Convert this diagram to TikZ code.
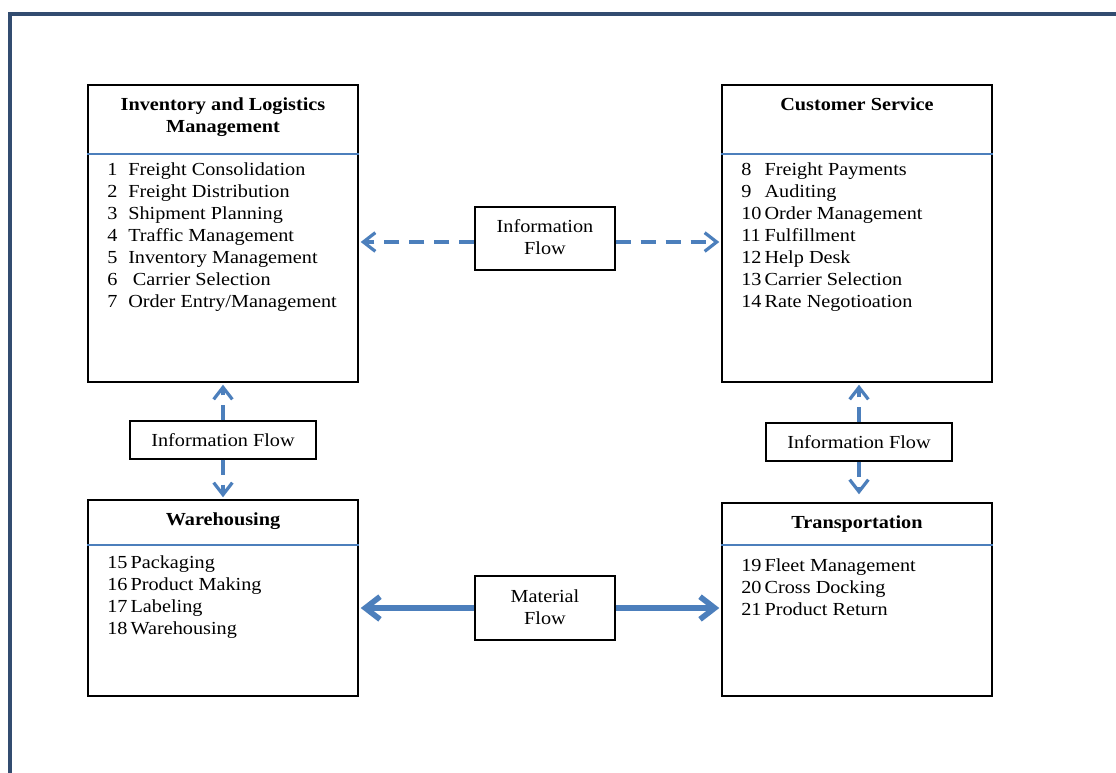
\documentclass[tikz,border=0pt]{standalone}
\usepackage{fontspec}
\setmainfont{Liberation Serif}[FakeStretch=1.1]
\usetikzlibrary{arrows.meta,fit,calc}

\definecolor{framecol}{RGB}{50,76,112}
\definecolor{flowblue}{RGB}{76,127,188}

\newcommand\boxfont{\fontsize{13.8}{16.5}\selectfont}

\tikzset{
  panel/.style={draw=black, line width=1.1pt, inner sep=0pt},
  sepline/.style={draw=flowblue, line width=0.9pt},
  flowbox/.style={draw=black, line width=1.1pt, inner sep=0pt},
  flowtext/.style={inner sep=0pt, align=center, font=\boxfont},
  headtext/.style={font=\boxfont\bfseries, align=center, inner sep=0pt, anchor=base},
  itemlist/.style={font=\boxfont, inner sep=0pt, anchor=base west},
  infoarrow/.style={draw=flowblue, line width=2.4pt, dash pattern=on 11.25pt off 7.5pt,
    -{Straight Barb[length=9pt,width=14pt]}, shorten >=1.5pt},
  matarrow/.style={draw=flowblue, line width=4.2pt,
    -{Straight Barb[length=11pt,width=17pt]}, shorten >=1.5pt},
}

\begin{document}
\begin{tikzpicture}[x=0.75pt, y=-0.75pt]
  \useasboundingbox[fill=white] (0,0) rectangle (1116,772);

  % page frame
  \draw[framecol, line width=3pt, line join=miter] (10,790) -- (10,14) -- (1130,14);

  % the four functional panels
  \node[panel, fit={(88,85) (358,382)}]  (ilm) {};
  \node[panel, fit={(722,85) (992,382)}] (cs)  {};
  \node[panel, fit={(88,500) (358,696)}] (wh)  {};
  \node[panel, fit={(722,503) (992,696)}] (tr) {};

  % header separators
  \draw[sepline] (ilm.west |- 0,154) -- (ilm.east |- 0,154);
  \draw[sepline] (cs.west |- 0,154)  -- (cs.east |- 0,154);
  \draw[sepline] (wh.west |- 0,545)  -- (wh.east |- 0,545);
  \draw[sepline] (tr.west |- 0,545)  -- (tr.east |- 0,545);

  % panel headings
  \node[headtext] (ilmhead) at (223,132) {Inventory and Logistics\\Management};
  \node[headtext] (cshead)  at (857,110) {Customer Service};
  \node[headtext] (whhead)  at (223,525) {Warehousing};
  \node[headtext] (trhead)  at (857,528) {Transportation};

  % panel contents
  \node[itemlist] (ilmlist) at (107,175) {\begin{tabular}[t]{@{}p{15.75pt}@{}l@{}}
    1 & Freight Consolidation\\
    2 & Freight Distribution\\
    3 & Shipment Planning\\
    4 & Traffic Management\\
    5 & Inventory Management\\
    6 & \hspace{3.5pt}Carrier Selection\\
    7 & Order Entry/Management
  \end{tabular}};
  \node[itemlist] (cslist) at (741,175) {\begin{tabular}[t]{@{}p{17.5pt}@{}l@{}}
    8 & Freight Payments\\
    9 & Auditing\\
    10 & Order Management\\
    11 & Fulfillment\\
    12 & Help Desk\\
    13 & Carrier Selection\\
    14 & Rate Negotioation
  \end{tabular}};
  \node[itemlist] (whlist) at (107,568) {\begin{tabular}[t]{@{}p{17.5pt}@{}l@{}}
    15 & Packaging\\
    16 & Product Making\\
    17 & Labeling\\
    18 & Warehousing
  \end{tabular}};
  \node[itemlist] (trlist) at (741,571) {\begin{tabular}[t]{@{}p{17.5pt}@{}l@{}}
    19 & Fleet Management\\
    20 & Cross Docking\\
    21 & Product Return
  \end{tabular}};

  % flow label boxes
  \node[flowbox, fit={(475,207) (615,270)}] (info)  {};
  \node[flowbox, fit={(475,576) (615,640)}] (mat)   {};
  \node[flowbox, fit={(130,421) (316,459)}] (infol) {};
  \node[flowbox, fit={(766,423) (952,461)}] (infor) {};
  \node[flowtext] (infotxt)  at ($(info.center)+(0,-1)$)  {Information\\Flow};
  \node[flowtext] (mattxt)   at ($(mat.center)+(0,-1)$)   {Material\\Flow};
  \node[flowtext] (infoltxt) at (infol.center)  {Information Flow};
  \node[flowtext] (infortxt) at (infor.center)  {Information Flow};

  % information flow between the upper panels
  \coordinate (infoL) at ($(info.west)+(0,3.5)$);
  \coordinate (infoR) at ($(info.east)+(0,3.5)$);
  \draw[infoarrow] (infoL) -- (infoL -| ilm.east);
  \draw[infoarrow] (infoR) -- (infoR -| cs.west);

  % information flow on each side
  \draw[infoarrow] (infol.north) -- (infol.north |- ilm.south);
  \draw[infoarrow] (infol.south) -- (infol.south |- wh.north);
  \draw[infoarrow] (infor.north) -- (infor.north |- cs.south);
  \draw[infoarrow, shorten >=6pt] (infor.south) -- (infor.south |- tr.north);

  % material flow between the lower panels
  \draw[matarrow] (mat.west) -- (mat.west -| wh.east);
  \draw[matarrow] (mat.east) -- (mat.east -| tr.west);
\end{tikzpicture}
\end{document}
